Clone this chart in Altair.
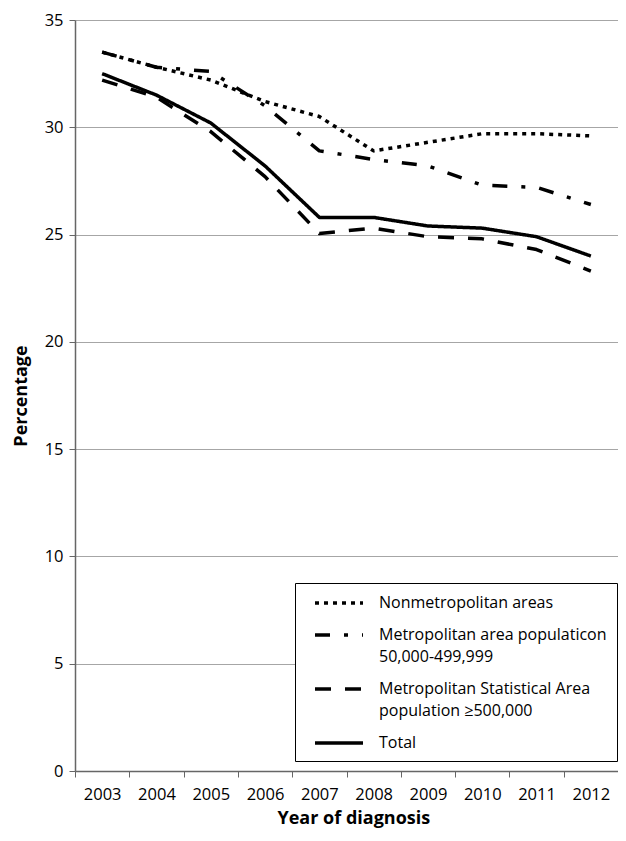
import altair as alt
import pandas as pd

years = [2003, 2004, 2005, 2006, 2007, 2008, 2009, 2010, 2011, 2012]
nonmetro = [33.5, 32.8, 32.2, 31.2, 30.5, 28.9, 29.3, 29.7, 29.7, 29.6]
metro_small = [33.5, 32.8, 32.6, 31.0, 28.9, 28.5, 28.2, 27.3, 27.2, 26.4]
msa_large = [32.2, 31.4, 29.8, 27.7, 25.05, 25.3, 24.9, 24.8, 24.3, 23.3]
total = [32.5, 31.5, 30.2, 28.2, 25.8, 25.8, 25.4, 25.3, 24.9, 24.0]

series_names = [
    "Nonmetropolitan areas",
    "Metropolitan area populaticon|50,000-499,999",
    "Metropolitan Statistical Area|population \u2265500,000",
    "Total",
]
series_values = [nonmetro, metro_small, msa_large, total]

rows = []
for name, vals in zip(series_names, series_values):
    for yr, v in zip(years, vals):
        rows.append({"year": yr, "pct": v, "series": name})
df = pd.DataFrame(rows)

dashes = [[4, 5], [15, 14, 4, 14], [16, 14], [1, 0]]
widths = [3.5, 3.5, 3.8, 2.5]

FONT = "Open Sans"

chart = alt.Chart(df).mark_line(
    color="black", strokeCap="butt", strokeJoin="round"
).encode(
    x=alt.X(
        "year:O",
        bandPosition=0.5,
        scale=alt.Scale(type="band", paddingInner=0, paddingOuter=0),
        axis=alt.Axis(
            title="Year of diagnosis",
            titleAnchor="start",
            titleX=202,
            tickBand="extent",
            labelAngle=0,
            labelFont=FONT,
            labelFontSize=16.5,
            labelColor="black",
            labelPadding=9,
            titleFont=FONT,
            titleFontSize=18,
            titleFontWeight="bold",
            titleColor="black",
            titlePadding=7,
            domainColor="#666666",
            tickColor="#666666",
            tickSize=6,
            domainWidth=1.5,
            grid=False,
        ),
    ),
    y=alt.Y(
        "pct:Q",
        scale=alt.Scale(domain=[0, 35], nice=False),
        axis=alt.Axis(
            title="Percentage",
            values=[0, 5, 10, 15, 20, 25, 30, 35],
            labelFont=FONT,
            labelFontSize=16.5,
            labelColor="black",
            labelPadding=6,
            titleFont=FONT,
            titleFontSize=18,
            titleFontWeight="bold",
            titleColor="black",
            titlePadding=14,
            domainColor="#666666",
            tickColor="#666666",
            tickSize=6,
            domainWidth=1.5,
            gridColor="#a6a6a6",
            gridWidth=1.2,
        ),
    ),
    strokeDash=alt.StrokeDash(
        "series:N",
        scale=alt.Scale(domain=series_names, range=dashes),
        legend=alt.Legend(
            orient="none",
            legendX=220,
            legendY=563,
            title=None,
            symbolType="M-3,0H3",
            symbolSize=256,
            symbolStrokeWidth=3.5,
            symbolStrokeColor="black",
            symbolOffset=24,
            labelOffset=30,
            labelFont=FONT,
            labelFontSize=16,
            labelColor="black",
            labelLimit=400,
            labelExpr="split(datum.label, '|')",
            strokeColor="black",
            fillColor="white",
            padding=10,
            rowPadding=14,
        ),
    ),
    strokeWidth=alt.StrokeWidth(
        "series:N",
        scale=alt.Scale(domain=series_names, range=widths),
        legend=None,
    ),
).properties(
    width=543,
    height=751,
    autosize=alt.AutoSizeParams(type="none"),
    padding={"left": 67, "top": 12, "right": 0, "bottom": 59},
).configure(
    view={"stroke": None},
    style={"guide-label": {"lineHeight": 22}},
)

chart.save("out.html", embed_options={"renderer": "svg", "actions": False})
